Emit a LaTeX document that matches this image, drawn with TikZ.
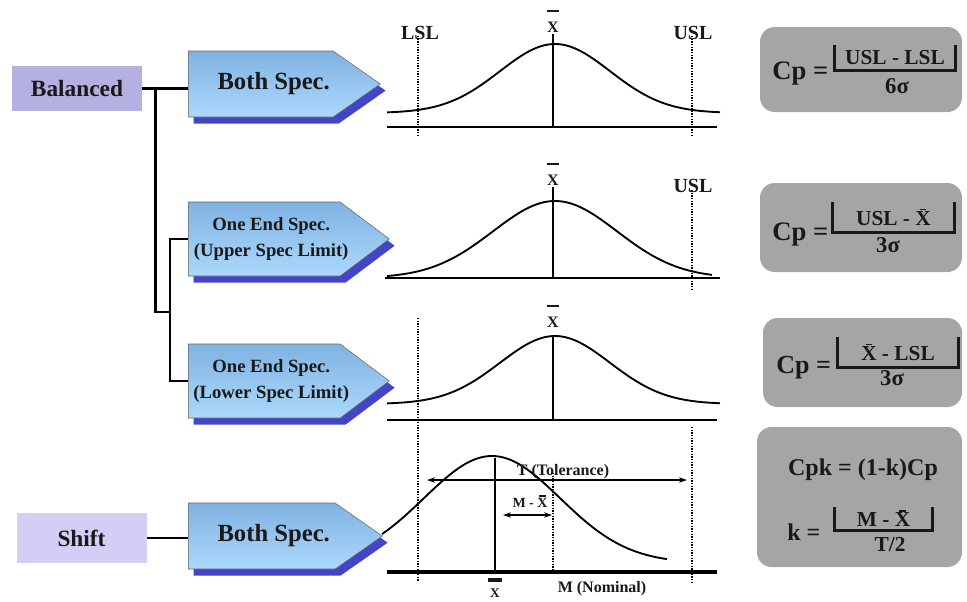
\documentclass[tikz,border=0pt]{standalone}
\usepackage{fontspec}
\setmainfont{Liberation Serif}
\usetikzlibrary{shapes.symbols, shadows, arrows.meta, calc}
\definecolor{tagdark}{RGB}{180,176,226}
\definecolor{taglight}{RGB}{210,206,246}
\definecolor{specdark}{RGB}{128,178,226}
\definecolor{speclight}{RGB}{172,216,252}
\definecolor{specshadow}{RGB}{68,68,200}
\definecolor{boxgray}{RGB}{165,165,165}
\definecolor{ink}{RGB}{25,25,25}
\newcommand{\fsz}[1]{\fontsize{#1}{#1}\selectfont\bfseries}
% X with a bar: gap, bar thickness, bar width
\newcommand{\xbar}[3]{\setbox0\hbox{X}\vbox{\offinterlineskip\hbox to\wd0{\hss\vrule width #3 height #2\hss}\vskip#1\box0}}
% zero-width text, pushed right by half of #1
\newcommand{\nudge}[2]{\makebox[0pt]{\hspace*{#1}#2}}

\begin{document}
\begin{tikzpicture}[x=0.75pt, y=-0.75pt,
  tag/.style={minimum width=97.5pt, minimum height=33.75pt, font=\fsz{17.5}, text=ink},
  spec/.style={signal, signal to=east, signal pointer angle=#1, draw=black!60,
    line width=0.4pt, top color=specdark, bottom color=speclight, anchor=west,
    text=ink, drop shadow={shadow xshift=4pt, shadow yshift=-5pt,
    fill=specshadow, opacity=1}},
  fbox/.style={rounded corners=11pt, fill=boxgray, inner sep=0pt},
  numbox/.style={inner sep=0pt, font=\fsz{16}, text=ink},
  ftext/.style={inner sep=0pt, text=ink},
  brk/.style={line width=2pt, ink},
  tree/.style={line width=2.2pt},
  axis/.style={line width=2.2pt},
  bell/.style={line width=1.4pt},
  limit/.style={line width=1.2pt, dash pattern=on 1pt off 1pt},
  dim/.style={{Stealth[length=6pt,width=4pt]}-{Stealth[length=6pt,width=4pt]}, line width=0.8pt},
  lab/.style={inner sep=0pt, anchor=base, font=\fsz{15}, text=ink}
]
\useasboundingbox (0,0) rectangle (967,601);

% left side
\node[tag, fill=tagdark] (bal) at (77,88.5) {Balanced};
\node[tag, fill=taglight, minimum height=37.5pt] (shift) at (81.5,538) {Shift};
\node[spec=70, minimum width=144pt, minimum height=49.5pt, font=\fsz{18.5}] (both1) at (188,84) {\nudge{19.5pt}{Both Spec.}};
\node[spec=74, minimum width=150.75pt, minimum height=55.5pt, align=center,
  font=\fontsize{14}{19}\selectfont\bfseries] (upper) at (188,239)
  {\nudge{10.5pt}{One End Spec.}\\\nudge{10.5pt}{(Upper Spec Limit)}};
\node[spec=74, minimum width=150.75pt, minimum height=55.5pt, align=center,
  font=\fontsize{14}{19}\selectfont\bfseries] (lower) at (188,381)
  {\nudge{10.5pt}{One End Spec.}\\\nudge{10.5pt}{(Lower Spec Limit)}};
\node[spec=70, minimum width=145.5pt, minimum height=49.5pt, font=\fsz{18.5}] (both2) at (188,536) {\nudge{18pt}{Both Spec.}};

\coordinate (j1) at ($(bal.east)!0.28!(bal.east -| both1.west)$);
\coordinate (j2) at (170,312);
\draw[tree] (bal.east) -- (bal.east -| both1.west);
\draw[tree] (j1) |- (j2);
\draw[tree] (upper.west) -| (j2) |- (lower.west);
\draw[tree] (shift.east) -- (shift.east -| both2.west);

% curve 1: both limits
\node[lab] (lsl) at (420,39) {LSL};
\node[lab] (usl1) at (693,39) {USL};
\node[lab, font=\fsz{12}] (xb1) at (553,32) {\xbar{7pt}{1.5pt}{9pt}};
\draw[axis] (387,127) -- (717,127);
\draw[bell] plot[domain=387:720, samples=90] (\x, {113-69*exp(-0.5*((\x-555)/55)*((\x-555)/55))});
\draw[line width=0.8pt] (553,34) -- (553,127);
\draw[limit] (418,36) -- (418,137);
\draw[limit] (692,36) -- (692,137);

% curve 2: upper limit
\node[lab] (usl2) at (693,192) {USL};
\node[lab, font=\fsz{12}] (xb2) at (553,185) {\xbar{7pt}{1.5pt}{9pt}};
\draw[axis] (385,278) -- (720,278);
\draw[bell] plot[domain=387:712, samples=90] (\x, {278-77*exp(-0.5*((\x-555)/62)*((\x-555)/62))});
\draw[line width=1pt] (553,187) -- (553,278);
\draw[limit] (692,190) -- (692,290);

% curve 3: lower limit
\node[lab, font=\fsz{12}] (xb3) at (553,327) {\xbar{7pt}{1.5pt}{9pt}};
\draw[axis] (387,420) -- (717,420);
\draw[bell] plot[domain=387:720, samples=90] (\x, {404-68*exp(-0.5*((\x-555)/55)*((\x-555)/55))});
\draw[line width=1.4pt] (553,336) -- (553,420);

% curve 4: shifted
\draw[limit] (418,318) -- (418,582);
\draw[limit] (692,427) -- (692,582);
\draw[limit] (553,473) -- (553,572);
\draw[line width=3pt] (387,572) -- (717,572);
\draw[bell] plot[domain=382:667, samples=90] (\x, {563-107*exp(-0.5*((\x-492)/68)*((\x-492)/68))});
\draw[line width=1.8pt] (495,458) -- (495,572);
\node[lab, font=\fsz{12}] (tol) at (563,475) {T (Tolerance)};
\node[lab, font=\fsz{10.5}] (mx) at (530,507) {M - \xbar{1pt}{1pt}{5pt}};
\node[lab, font=\fsz{12}] (nom) at (602,592) {M (Nominal)};
\node[lab, font=\fsz{10}] (xb4) at (495,597) {\xbar{5pt}{3pt}{10.5pt}};
\coordinate (tl) at (427,480);
\coordinate (tr) at (687,480);
\coordinate (ml) at (503,515);
\coordinate (mr) at (552,515);
\draw[dim] (tl) -- (tr);
\draw[dim] (ml) -- (mr);

% formula boxes
\node[fbox, minimum width=151.5pt, minimum height=63.75pt] (box1) at (861,69.5) {};
\node[fbox, minimum width=151.5pt, minimum height=66.75pt] (box2) at (861,227.5) {};
\node[fbox, minimum width=149.25pt, minimum height=66.75pt] (box3) at (862.5,362.5) {};
\node[fbox, minimum width=153.75pt, minimum height=105pt] (box4) at (859.5,497) {};

\node[ftext, anchor=base west, font=\fsz{20}] (cp1) at (772,79) {Cp =};
\node[numbox, minimum width=90pt, minimum height=18.75pt] (n1) at (895,57.5) {USL - LSL};
\draw[brk] (n1.north west) |- (n1.south east) -- (n1.north east);
\node[ftext, anchor=base, font=\fsz{17}] (d1) at (897,93) {6σ};

\node[ftext, anchor=base west, font=\fsz{20}] (cp2) at (772,240) {Cp =};
\node[numbox, minimum width=90.75pt, minimum height=22.5pt] (n2) at (893.5,217) {USL - \xbar{1pt}{1pt}{5pt}};
\draw[brk] (n2.north west) |- (n2.south east) -- (n2.north east);
\node[ftext, anchor=base, font=\fsz{17}] (d2) at (888,252) {3σ};

\node[ftext, anchor=base west, font=\fsz{19.5}] (cp3) at (776,373) {Cp =};
\node[numbox, minimum width=90pt, minimum height=22.5pt] (n3) at (898,352) {\xbar{1pt}{1pt}{5pt} - LSL};
\draw[brk] (n3.north west) |- (n3.south east) -- (n3.north east);
\node[ftext, anchor=base, font=\fsz{17}] (d3) at (892,385) {3σ};

\node[ftext, anchor=base, font=\fsz{18}] (cpk) at (863,475) {Cpk = (1-k)Cp};
\node[ftext, anchor=base west, font=\fsz{18}] (k4) at (787,540) {k =};
\node[numbox, minimum width=72.75pt, minimum height=17.25pt] (n4) at (883.5,518.5) {M - \xbar{1pt}{1pt}{5pt}};
\draw[brk] (n4.north west) |- (n4.south east) -- (n4.north east);
\node[ftext, anchor=base, font=\fsz{16}] (d4) at (890,551) {T/2};
\end{tikzpicture}
\end{document}
